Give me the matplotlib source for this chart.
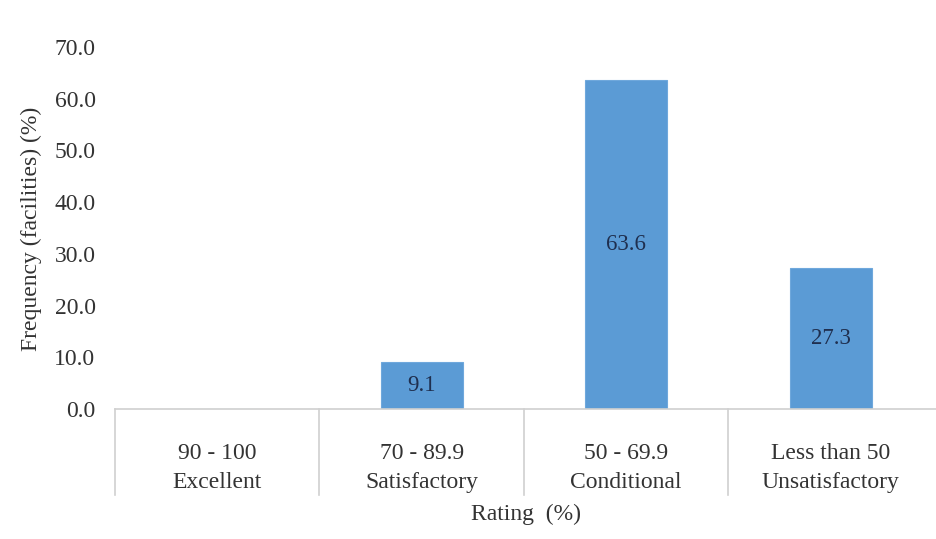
import matplotlib.pyplot as plt
from matplotlib.ticker import FormatStrFormatter
from matplotlib.transforms import blended_transform_factory

ranges = ["90 - 100", "70 - 89.9", "50 - 69.9", "Less than 50"]
grades = ["Excellent", "Satisfactory", "Conditional", "Unsatisfactory"]
frequency = [0.0, 9.1, 63.6, 27.3]
y_ticks = [0, 10, 20, 30, 40, 50, 60, 70]

BAR_COLOR = "#5b9bd5"
TEXT_COLOR = "#333333"
LINE_COLOR = "#d0d0d0"

plt.rcParams["font.family"] = ["Liberation Serif", "DejaVu Serif"]

fig = plt.figure(figsize=(9.37, 5.39), dpi=100)
ax = fig.add_axes([0.1227, 0.2412, 0.8773, 0.6716])

x = list(range(len(frequency)))
ax.bar(x, frequency, width=0.4, color=BAR_COLOR, edgecolor="#6fa8dc",
       linewidth=0.8, zorder=2)

for xi, val in zip(x, frequency):
    if val > 0:
        ax.text(xi, val / 2, f"{val:.1f}", ha="center", va="center",
                fontsize=16.5, color="#1f2f4f", zorder=3)

ax.set_xlim(-0.5, 3.52)
ax.set_ylim(0, 70)
ax.set_yticks(y_ticks)
ax.yaxis.set_major_formatter(FormatStrFormatter("%.1f"))
ax.tick_params(axis="y", length=0, pad=14, labelsize=17, labelcolor=TEXT_COLOR)
ax.set_xticks([])

for side in ["top", "right", "left"]:
    ax.spines[side].set_visible(False)
ax.spines["bottom"].set_color(LINE_COLOR)
ax.spines["bottom"].set_linewidth(1.2)

# multi-level category axis, drawn below the plot area
trans = blended_transform_factory(ax.transData, ax.transAxes)
for sep in [-0.5, 0.5, 1.5, 2.5]:
    ax.plot([sep, sep], [0, -0.237], transform=trans, color=LINE_COLOR,
            linewidth=1.2, clip_on=False)

for xi, r, g in zip(x, ranges, grades):
    ax.text(xi, -0.122, r, transform=trans, ha="center", va="center",
            fontsize=17, color=TEXT_COLOR)
    ax.text(xi, -0.202, g, transform=trans, ha="center", va="center",
            fontsize=17, color=TEXT_COLOR)

ax.text(0.5, -0.29, "Rating  (%)", transform=ax.transAxes, ha="center",
        va="center", fontsize=17, color=TEXT_COLOR)

fig.text(31 / 937, 0.575, "Frequency (facilities) (%)", rotation=90,
         ha="center", va="center", fontsize=17, color=TEXT_COLOR)

fig.savefig("out.png", dpi=100)
